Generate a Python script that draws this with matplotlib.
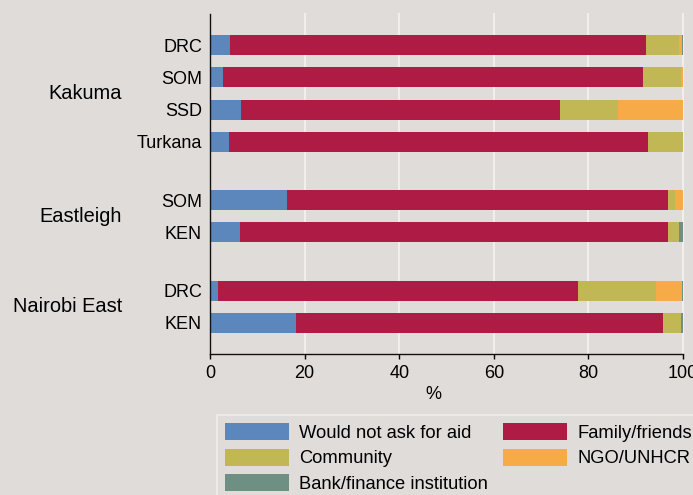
import numpy as np
import matplotlib
matplotlib.use("Agg")
import matplotlib.pyplot as plt
from matplotlib.patches import Patch
from matplotlib.transforms import blended_transform_factory


'''_____Data_____'''
groups = ["Kakuma", "Eastleigh", "Nairobi East"]
group_rows = [["DRC", "SOM", "SSD", "Turkana"], ["SOM", "KEN"], ["DRC", "KEN"]]

series = ["Would not ask for aid", "Family/friends", "Community", "NGO/UNHCR", "Bank/finance institution"]
would_not = [4.2, 2.7, 6.5, 4.0, 16.3, 6.3, 1.7, 18.2]
family = [88.0, 88.8, 67.5, 88.6, 80.5, 90.5, 76.1, 77.6]
community = [7.0, 8.1, 12.3, 7.4, 1.5, 2.4, 16.5, 3.8]
ngo = [0.5, 0.4, 13.7, 0.0, 1.7, 0.0, 5.5, 0.0]
bank = [0.3, 0.0, 0.0, 0.0, 0.0, 0.8, 0.2, 0.4]

colors = ["#5b87bd", "#ae1c45", "#c1b855", "#f7ab47", "#6e9082"]
bg = "#e0dcda"

plt.rcParams['font.family'] = ['Liberation Sans', 'DejaVu Sans']

'''_____Positions_____'''
gap = 0.8
ypos = []
group_centers = []
y = 0.0
for rows in group_rows:
    start = y
    for r in rows:
        ypos.append(y)
        y += 1
    group_centers.append((start + y - 1) / 2)
    y += gap
ypos = np.array(ypos)
labels = [r for rows in group_rows for r in rows]


fig = plt.figure(figsize=(6.93, 4.95), dpi=100, facecolor=bg)
ax = fig.add_axes([210/693, 1-354/495, 473/693, 340/495])
ax.set_facecolor(bg)

for gx in [20, 40, 60, 80, 100]:
    ax.axvline(gx, color="#f1efed", lw=1.5, zorder=0, clip_on=False)

left = np.zeros(len(ypos))
for vals, c in zip([would_not, family, community, ngo, bank], colors):
    vals = np.array(vals)
    ax.barh(ypos, vals, left=left, height=0.62, color=c, zorder=2)
    left += vals

ax.set_xlim(0, 100)
ax.set_ylim(ypos[-1] + 0.96, -0.96)
ax.set_yticks(ypos)
ax.set_yticklabels(labels, fontsize=13)
ax.set_xticks([0, 20, 40, 60, 80, 100])
ax.tick_params(axis='y', length=0, pad=5.8)
ax.tick_params(axis='x', length=3.6, width=1, pad=4.5, labelsize=13)
ax.set_xlabel("%", fontsize=13, labelpad=2.5, x=(433-210)/473)

for s in ["top", "right"]:
    ax.spines[s].set_visible(False)
for s in ["left", "bottom"]:
    ax.spines[s].set_color("#111111")
    ax.spines[s].set_linewidth(1.0)

trans = blended_transform_factory(ax.transAxes, ax.transData)
for g, yc in zip(groups, group_centers):
    ax.text((122-210)/473, yc, g, transform=trans, ha='right', va='center', fontsize=14.4)

# legend filled column-wise
order = [0, 2, 4, 1, 3]
handles = [Patch(facecolor=colors[i], edgecolor='none') for i in order]
leg = fig.legend(handles, [series[i] for i in order], ncol=2, loc='upper left',
                 bbox_to_anchor=(217/693, 1-415/495), borderaxespad=0, fontsize=13.2,
                 handlelength=3.49, handleheight=1.04, handletextpad=0.55,
                 labelspacing=0.38, columnspacing=0.82, borderpad=0.44,
                 frameon=True, fancybox=False)
leg.get_frame().set_facecolor(bg)
leg.get_frame().set_edgecolor("#f1efed")
leg.get_frame().set_linewidth(1.5)

plt.savefig("out.png", dpi=100, facecolor=bg)
